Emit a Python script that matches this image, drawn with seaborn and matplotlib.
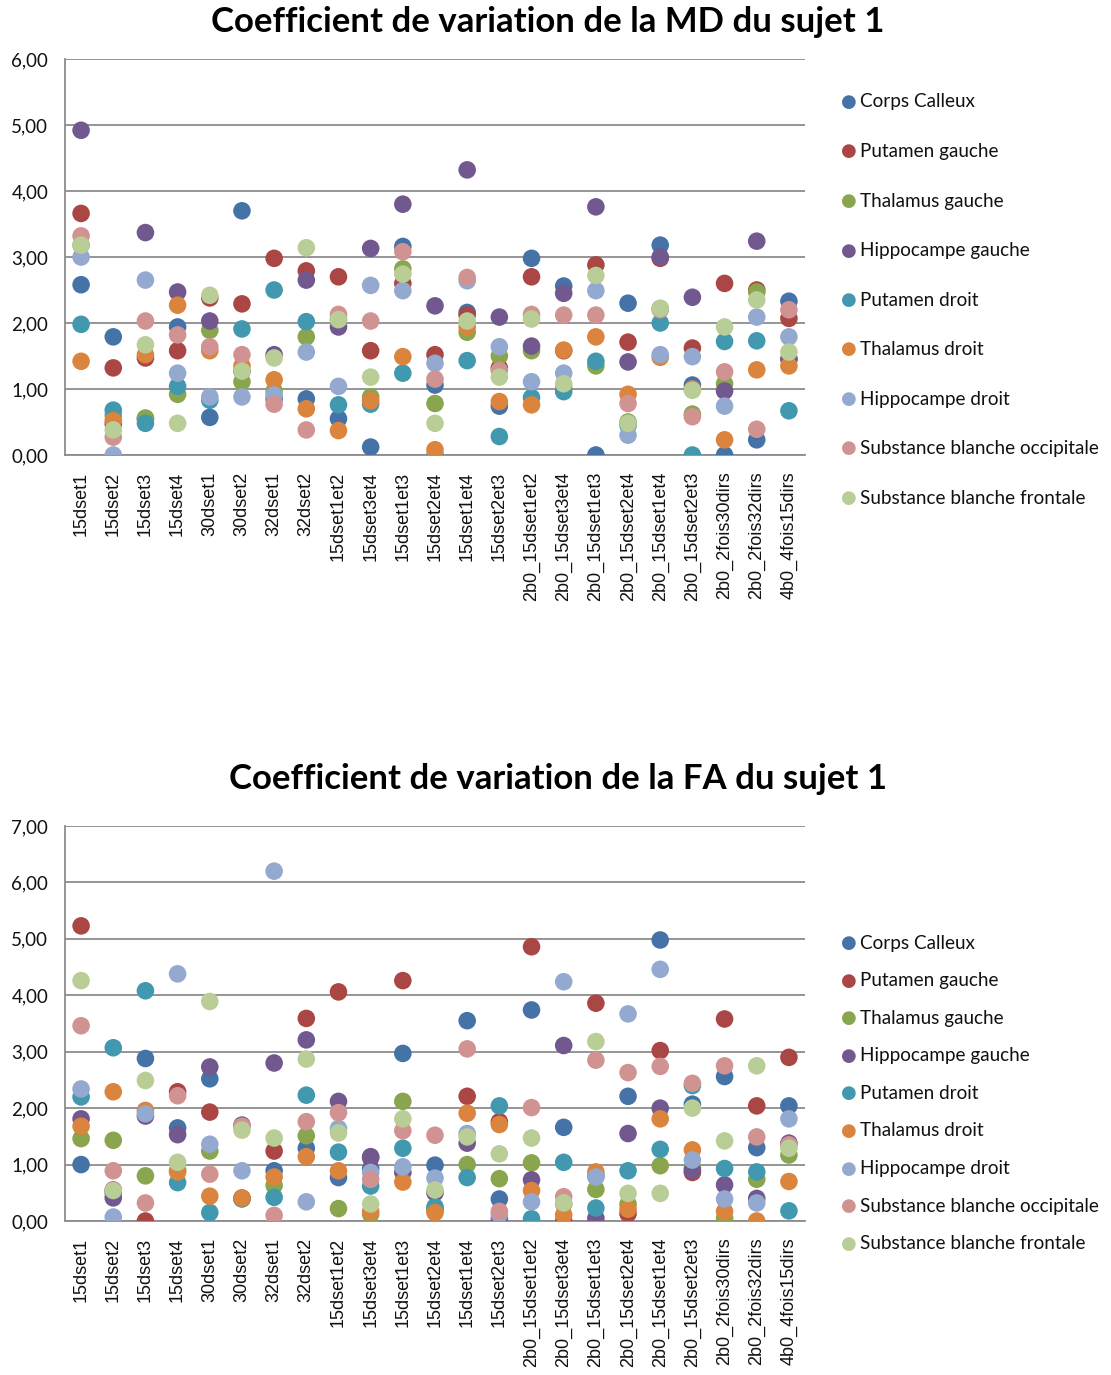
import numpy as np
import pandas as pd
import matplotlib
matplotlib.use("Agg")
import matplotlib.pyplot as plt
import seaborn as sns
from matplotlib.ticker import FuncFormatter, FixedLocator

categories = ['15dset1', '15dset2', '15dset3', '15dset4', '30dset1', '30dset2', '32dset1', '32dset2',
              '15dset1et2', '15dset3et4', '15dset1et3', '15dset2et4', '15dset1et4', '15dset2et3',
              '2b0_15dset1et2', '2b0_15dset3et4', '2b0_15dset1et3', '2b0_15dset2et4',
              '2b0_15dset1et4', '2b0_15dset2et3', '2b0_2fois30dirs', '2b0_2fois32dirs', '4b0_4fois15dirs']

series_names = ['Corps Calleux', 'Putamen gauche', 'Thalamus gauche', 'Hippocampe gauche',
                'Putamen droit', 'Thalamus droit', 'Hippocampe droit',
                'Substance blanche occipitale', 'Substance blanche frontale']

# --- Coefficient de variation de la MD ---
md_corps_calleux = [2.58, 1.79, 0.55, 1.94, 0.57, 3.70, 0.85, 0.85, 0.55, 0.12, 3.16, 1.06, 2.16, 0.74,
                    2.98, 2.56, 0.00, 2.30, 3.18, 1.06, 0.00, 0.23, 2.33]
md_putamen_g = [3.66, 1.32, 1.47, 1.58, 2.38, 2.29, 2.98, 2.79, 2.70, 1.58, 2.60, 1.52, 2.12, 1.32,
                2.70, 1.58, 2.88, 1.71, 2.98, 1.62, 2.60, 2.50, 2.07]
md_thalamus_g = [3.18, 0.60, 0.56, 0.92, 1.89, 1.11, 0.97, 1.79, 2.06, 0.88, 2.82, 0.78, 1.86, 1.50,
                 1.58, 1.02, 1.35, 0.50, 2.22, 0.62, 1.08, 2.47, 1.46]
md_hippocampe_g = [4.92, 0.47, 3.37, 2.47, 2.03, 1.27, 1.52, 2.65, 1.94, 3.13, 3.80, 2.26, 4.32, 2.09,
                   1.65, 2.45, 3.76, 1.41, 3.00, 2.39, 0.97, 3.24, 1.45]
md_putamen_d = [1.98, 0.68, 0.48, 1.04, 0.83, 1.91, 2.50, 2.02, 0.76, 0.77, 1.24, 0.00, 1.43, 0.28,
                0.87, 0.96, 1.42, 0.45, 2.00, 0.00, 1.72, 1.73, 0.67]
md_thalamus_d = [1.42, 0.52, 1.52, 2.27, 1.58, 1.35, 1.14, 0.70, 0.37, 0.82, 1.49, 0.08, 1.94, 0.81,
                 0.76, 1.59, 1.79, 0.92, 1.48, 1.00, 0.23, 1.29, 1.35]
md_hippocampe_d = [3.00, 0.00, 2.65, 1.24, 0.88, 0.88, 0.91, 1.56, 1.04, 2.57, 2.49, 1.39, 2.64, 1.64,
                   1.11, 1.24, 2.49, 0.30, 1.52, 1.49, 0.74, 2.09, 1.79]
md_sb_occipitale = [3.32, 0.27, 2.03, 1.82, 1.64, 1.52, 0.77, 0.38, 2.13, 2.03, 3.08, 1.15, 2.69, 1.28,
                    2.13, 2.12, 2.12, 0.78, 2.20, 0.58, 1.26, 0.39, 2.20]
md_sb_frontale = [3.18, 0.38, 1.67, 0.48, 2.42, 1.27, 1.47, 3.14, 2.05, 1.18, 2.74, 0.48, 2.03, 1.18,
                  2.06, 1.08, 2.72, 0.48, 2.22, 0.98, 1.94, 2.35, 1.56]

# --- Coefficient de variation de la FA ---
fa_corps_calleux = [1.00, 0.50, 2.88, 1.65, 2.52, 0.40, 0.89, 1.29, 0.77, 0.93, 2.97, 0.99, 3.55, 0.39,
                    3.74, 1.66, 0.80, 2.21, 4.98, 2.07, 2.56, 1.30, 2.04]
fa_putamen_g = [5.23, 0.55, 0.00, 2.29, 1.93, 0.40, 1.24, 3.59, 4.06, 1.12, 4.26, 0.20, 2.21, 1.76,
                4.86, 0.00, 3.86, 0.13, 3.02, 0.86, 3.58, 2.04, 2.90]
fa_thalamus_g = [1.46, 1.43, 0.80, 0.90, 1.24, 0.39, 0.63, 1.51, 0.22, 0.12, 2.12, 0.20, 1.00, 0.75,
                 1.03, 0.30, 0.56, 0.30, 0.98, 0.95, 0.05, 0.74, 1.17]
fa_hippocampe_g = [1.81, 0.41, 1.86, 1.53, 2.73, 1.70, 2.80, 3.21, 2.12, 1.14, 0.86, 0.50, 1.38, 0.04,
                   0.73, 3.11, 0.05, 1.55, 2.00, 0.90, 0.64, 0.40, 1.38]
fa_putamen_d = [2.20, 3.07, 4.08, 0.68, 0.15, 0.40, 0.42, 2.23, 1.22, 0.62, 1.29, 0.25, 0.77, 2.04,
                0.04, 1.04, 0.23, 0.89, 1.27, 2.40, 0.93, 0.87, 0.18]
fa_thalamus_d = [1.68, 2.29, 1.96, 0.87, 0.44, 0.41, 0.78, 1.14, 0.89, 0.17, 0.69, 0.15, 1.91, 1.71,
                 0.54, 0.11, 0.87, 0.21, 1.81, 1.26, 0.17, 0.00, 0.70]
fa_hippocampe_d = [2.34, 0.07, 1.90, 4.38, 1.36, 0.89, 6.20, 0.34, 1.64, 0.86, 0.96, 0.76, 1.55, 0.12,
                   0.34, 4.24, 0.78, 3.67, 4.46, 1.08, 0.39, 0.32, 1.81]
fa_sb_occipitale = [3.46, 0.89, 0.32, 2.22, 0.83, 1.68, 0.10, 1.76, 1.92, 0.74, 1.60, 1.52, 3.05, 0.17,
                    2.01, 0.43, 2.85, 2.63, 2.74, 2.44, 2.75, 1.49, 1.35]
fa_sb_frontale = [4.26, 0.54, 2.49, 1.04, 3.89, 1.61, 1.47, 2.87, 1.56, 0.30, 1.81, 0.55, 1.49, 1.19,
                  1.47, 0.32, 3.18, 0.49, 0.49, 2.00, 1.42, 2.75, 1.29]

md_series = [md_corps_calleux, md_putamen_g, md_thalamus_g, md_hippocampe_g, md_putamen_d,
             md_thalamus_d, md_hippocampe_d, md_sb_occipitale, md_sb_frontale]
fa_series = [fa_corps_calleux, fa_putamen_g, fa_thalamus_g, fa_hippocampe_g, fa_putamen_d,
             fa_thalamus_d, fa_hippocampe_d, fa_sb_occipitale, fa_sb_frontale]

# couleurs Excel 2007
palette = ['#4572A7', '#AA4643', '#89A54E', '#71588F', '#4198AF', '#DB843D', '#93A9CF', '#D19392', '#B9CD96']


def to_long(series_list):
    rows = []
    for name, vals in zip(series_names, series_list):
        for cat, v in zip(categories, vals):
            rows.append({'Catégorie': cat, 'Structure': name, 'CV': v})
    return pd.DataFrame(rows)


sns.set_style("white")
plt.rcParams['font.family'] = ['Lato', 'DejaVu Sans']

W, H = 1111, 1375
fig = plt.figure(figsize=(W / 100, H / 100), dpi=100)


def draw_chart(series_list, title, ymax, box, title_xy, legend_top, legend_step):
    left, top, right, bottom = box
    ax = fig.add_axes([left / W, 1 - bottom / H, (right - left) / W, (bottom - top) / H])
    df = to_long(series_list)
    sns.scatterplot(data=df, x='Catégorie', y='CV', hue='Structure', hue_order=series_names,
                    palette=palette, s=160, edgecolor='none', linewidth=0, ax=ax, legend=False,
                    zorder=3)
    ax.set_xlim(-0.5, len(categories) - 0.5)
    ax.set_ylim(0, ymax)
    ax.yaxis.set_major_locator(FixedLocator(np.arange(0, ymax + 0.5, 1)))
    ax.yaxis.set_major_formatter(FuncFormatter(lambda v, p: f"{v:.2f}".replace('.', ',')))
    ax.grid(axis='y', color='#8c8c8c', linewidth=1.3, zorder=0)
    ax.set_axisbelow(True)
    for s in ['top', 'right']:
        ax.spines[s].set_visible(False)
    for s in ['left', 'bottom']:
        ax.spines[s].set_color('#8c8c8c')
        ax.spines[s].set_linewidth(1.3)
    # ticks entre les catégories, comme Excel
    ax.set_xticks(np.arange(-0.5, len(categories), 1), minor=False)
    ax.set_xticklabels([])
    ax.set_xticks(np.arange(len(categories)), minor=True)
    ax.set_xticklabels(categories, minor=True, rotation=90, fontsize=13,
                       family=['Liberation Sans', 'DejaVu Sans'], color='#111111')
    ax.tick_params(axis='x', which='major', length=6, color='#8c8c8c', width=1.3)
    ax.tick_params(axis='x', which='minor', length=0, pad=12)
    ax.tick_params(axis='y', length=6, color='#8c8c8c', width=1.3, labelsize=13.5, pad=6,
                   labelcolor='#111111')
    ax.set_xlabel('')
    ax.set_ylabel('')
    fig.text(title_xy[0] / W, 1 - title_xy[1] / H, title, ha='center', va='center',
             fontsize=25, fontweight='bold', color='black')
    # légende
    for i, (name, col) in enumerate(zip(series_names, palette)):
        yy = 1 - (legend_top + i * legend_step) / H
        fig.text(849 / W, yy, '\u25CF', color=col, fontsize=13, ha='center', va='center',
                 family=['DejaVu Sans'])
        fig.text(860 / W, yy, name, fontsize=13.6, ha='left', va='center', color='#111111')
    return ax


draw_chart(md_series, 'Coefficient de variation de la MD du sujet 1', 6,
           (65, 59, 805, 455), (548, 22), 102, 49.5)
draw_chart(fa_series, 'Coefficient de variation de la FA du sujet 1', 7,
           (65, 826, 805, 1221), (558, 779), 943, 37.6)

fig.savefig('out.png', dpi=100)
